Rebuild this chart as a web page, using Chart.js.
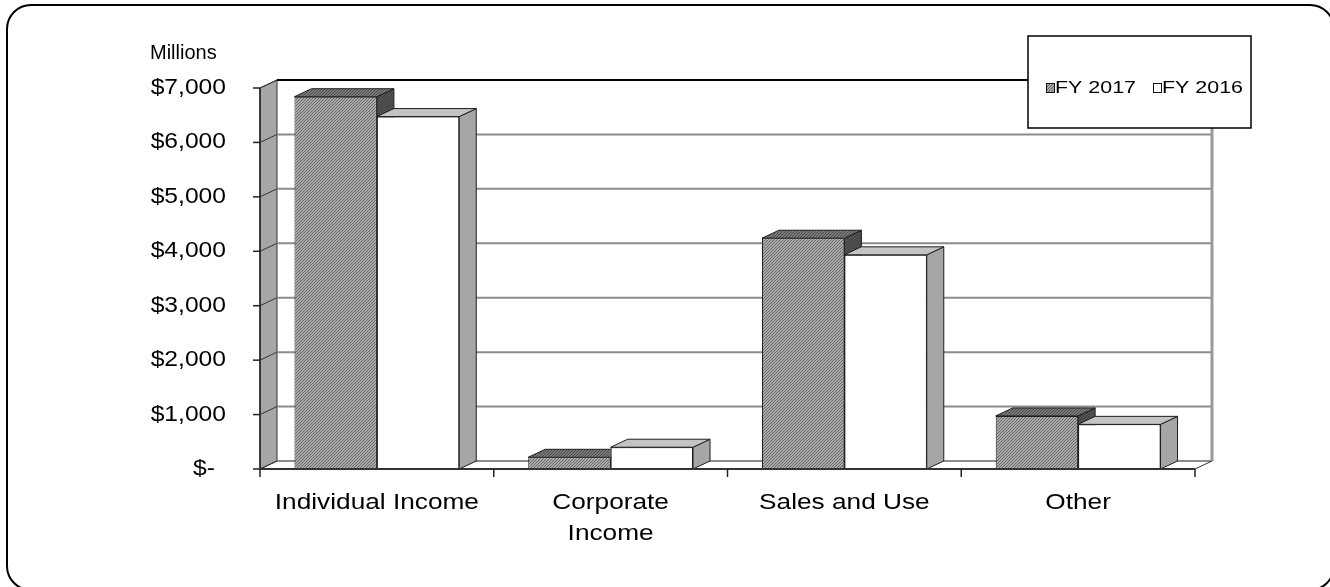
<!DOCTYPE html>
<html>
<head>
<meta charset="utf-8">
<script src="https://cdn.jsdelivr.net/npm/chart.js@4"></script>
<style>
  html, body { margin: 0; padding: 0; background: #fff; }
  #wrap { width: 1330px; height: 587px; position: relative; }
</style>
</head>
<body>
<div id="wrap"><canvas id="revenueChart"></canvas></div>
<script>
const categories = ['Individual Income', ['Corporate', 'Income'], 'Sales and Use', 'Other'];
const seriesNames = ['FY 2017', 'FY 2016'];
const fy2017 = [6840, 215, 4240, 975];
const fy2016 = [6475, 400, 3935, 820];
const yTickValues = [0, 1000, 2000, 3000, 4000, 5000, 6000, 7000];
const yTickLabels = ['$-', '$1,000', '$2,000', '$3,000', '$4,000', '$5,000', '$6,000', '$7,000'];
const unitLabel = 'Millions';

const FONT = '"Liberation Sans", Arial, sans-serif';
const DX = 17;   // depth offset of the 3d box
const DY = -8;

const canvas = document.getElementById('revenueChart');
const ctx = canvas.getContext('2d');

// fine diagonal hatch like the excel fill
function makeHatch(light, dark) {
  const c = document.createElement('canvas');
  c.width = 3;
  c.height = 3;
  const g = c.getContext('2d');
  g.fillStyle = light;
  g.fillRect(0, 0, 3, 3);
  g.fillStyle = dark;
  for (let i = 0; i < 3; i++) g.fillRect(i, 2 - i, 1, 1);
  return ctx.createPattern(c, 'repeat');
}

const hatchFront = makeHatch('#ababab', '#666666');
const hatchTop = makeHatch('#7a7a7a', '#4a4a4a');
const hatchSide = makeHatch('#555555', '#3a3a3a');

function poly(c, pts) {
  c.beginPath();
  c.moveTo(pts[0][0], pts[0][1]);
  for (let i = 1; i < pts.length; i++) c.lineTo(pts[i][0], pts[i][1]);
  c.closePath();
}

function line(c, x1, y1, x2, y2) {
  c.beginPath();
  c.moveTo(x1, y1);
  c.lineTo(x2, y2);
  c.stroke();
}

// the original picture is stretched sideways, so text gets a horizontal scale
function stretchText(c, text, x, y, align, size, sx) {
  c.save();
  c.font = size + 'px ' + FONT;
  c.textAlign = align;
  c.textBaseline = 'middle';
  c.fillStyle = '#000';
  c.translate(x, y);
  c.scale(sx, 1);
  c.fillText(text, 0, 0);
  c.restore();
}

function drawBox(c, el, topFill, sideFill) {
  const { x, y, base, width } = el.getProps(['x', 'y', 'base', 'width'], true);
  const l = x - width / 2;
  const r = x + width / 2;
  c.save();
  c.strokeStyle = '#1e1e1e';
  c.lineWidth = 1;
  c.lineJoin = 'round';
  c.fillStyle = sideFill;
  poly(c, [[r, y], [r + DX, y + DY], [r + DX, base + DY], [r, base]]);
  c.fill();
  c.stroke();
  c.fillStyle = topFill;
  poly(c, [[l, y], [r, y], [r + DX, y + DY], [l + DX, y + DY]]);
  c.fill();
  c.stroke();
  c.restore();
}

const box3d = {
  id: 'box3d',
  beforeDraw(chart) {
    const c = chart.ctx;
    c.save();
    c.fillStyle = '#fff';
    c.fillRect(0, 0, chart.width, chart.height);
    c.restore();
  },
  beforeDatasetsDraw(chart) {
    const c = chart.ctx;
    const a = chart.chartArea;
    const yS = chart.scales.y;
    const top = yS.getPixelForValue(7000);
    const base = yS.getPixelForValue(0);
    c.save();

    // left side wall
    c.fillStyle = '#a6a6a6';
    c.strokeStyle = '#333';
    c.lineWidth = 1;
    poly(c, [[a.left, top], [a.left + DX, top + DY], [a.left + DX, base + DY], [a.left, base]]);
    c.fill();
    c.stroke();

    // back wall gridlines
    yTickValues.forEach(v => {
      const py = yS.getPixelForValue(v);
      c.strokeStyle = v === 7000 ? '#000' : '#8c8c8c';
      c.lineWidth = 2;
      line(c, a.left + DX, py + DY, a.right + DX, py + DY);
      c.strokeStyle = '#333';
      c.lineWidth = 1;
      line(c, a.left, py, a.left + DX, py + DY);
    });

    // right edge of back wall and floor
    c.strokeStyle = '#9a9a9a';
    c.lineWidth = 3;
    line(c, a.right + DX, top + DY, a.right + DX, base + DY);
    c.strokeStyle = '#333';
    c.lineWidth = 1;
    line(c, a.right, base, a.right + DX, base + DY);

    // y axis, ticks and labels
    c.strokeStyle = '#222';
    c.lineWidth = 1.5;
    line(c, a.left, top, a.left, base);
    yTickValues.forEach((v, i) => {
      const py = yS.getPixelForValue(v);
      line(c, a.left - 7, py, a.left, py);
      // accounting format pulls the dash in from the right edge
      const right = v === 0 ? 215 : 226;
      stretchText(c, yTickLabels[i], right, py, 'right', 22, 1.12);
    });
    stretchText(c, unitLabel, 150, 53, 'left', 20, 1.0);
    c.restore();
  },
  afterDatasetsDraw(chart) {
    const c = chart.ctx;
    const a = chart.chartArea;
    const xS = chart.scales.x;
    const base = chart.scales.y.getPixelForValue(0);
    const m0 = chart.getDatasetMeta(0);
    const m1 = chart.getDatasetMeta(1);

    categories.forEach((_, i) => {
      drawBox(c, m0.data[i], hatchTop, hatchSide);
      m1.data[i].draw(c);
      drawBox(c, m1.data[i], '#c4c4c4', '#a6a6a6');
    });

    c.save();
    c.strokeStyle = '#333';
    c.lineWidth = 2;
    line(c, a.left, base, a.right, base);

    // category boundary ticks
    const step = xS.getPixelForValue(1) - xS.getPixelForValue(0);
    c.lineWidth = 1.5;
    c.strokeStyle = '#222';
    for (let i = 0; i <= categories.length; i++) {
      const px = xS.getPixelForValue(0) - step / 2 + i * step;
      line(c, px, base, px, base + 8);
    }

    categories.forEach((label, i) => {
      const lines = Array.isArray(label) ? label : [label];
      const px = xS.getPixelForValue(i);
      lines.forEach((t, k) => {
        stretchText(c, t, px, 503 + k * 31, 'center', 21.5, 1.22);
      });
    });
    c.restore();
  },
  afterDraw(chart) {
    const c = chart.ctx;
    c.save();

    // legend box
    c.fillStyle = '#fff';
    c.fillRect(1028, 36, 223, 92);
    c.strokeStyle = '#000';
    c.lineWidth = 1.5;
    c.strokeRect(1028, 36, 223, 92);

    c.lineWidth = 1;
    c.fillStyle = hatchFront;
    c.fillRect(1046.5, 83.5, 8, 9);
    c.strokeStyle = '#111';
    c.strokeRect(1046.5, 83.5, 8, 9);
    stretchText(c, seriesNames[0], 1055, 88, 'left', 17, 1.26);

    c.fillStyle = '#fff';
    c.fillRect(1153.5, 83.5, 8, 9);
    c.strokeRect(1153.5, 83.5, 8, 9);
    stretchText(c, seriesNames[1], 1162, 88, 'left', 17, 1.26);

    // outer rounded frame, runs off the right and bottom edges
    c.strokeStyle = '#000';
    c.lineWidth = 2;
    c.beginPath();
    c.roundRect(7, 5, 1327, 585, 24);
    c.stroke();
    c.restore();
  }
};

new Chart(ctx, {
  type: 'bar',
  data: {
    labels: categories,
    datasets: [
      {
        label: seriesNames[0],
        data: fy2017,
        backgroundColor: hatchFront,
        borderColor: '#1e1e1e',
        borderWidth: 1,
        borderSkipped: false
      },
      {
        label: seriesNames[1],
        data: fy2016,
        backgroundColor: '#ffffff',
        borderColor: '#1e1e1e',
        borderWidth: 1,
        borderSkipped: false
      }
    ]
  },
  options: {
    responsive: true,
    maintainAspectRatio: false,
    animation: false,
    layout: { padding: { left: 260, right: 135, top: 88, bottom: 118 } },
    datasets: { bar: { categoryPercentage: 0.705, barPercentage: 1 } },
    plugins: {
      legend: { display: false },
      tooltip: { enabled: false }
    },
    scales: {
      x: { display: false },
      y: { display: false, min: 0, max: 7000 }
    }
  },
  plugins: [box3d]
});
</script>
</body>
</html>
